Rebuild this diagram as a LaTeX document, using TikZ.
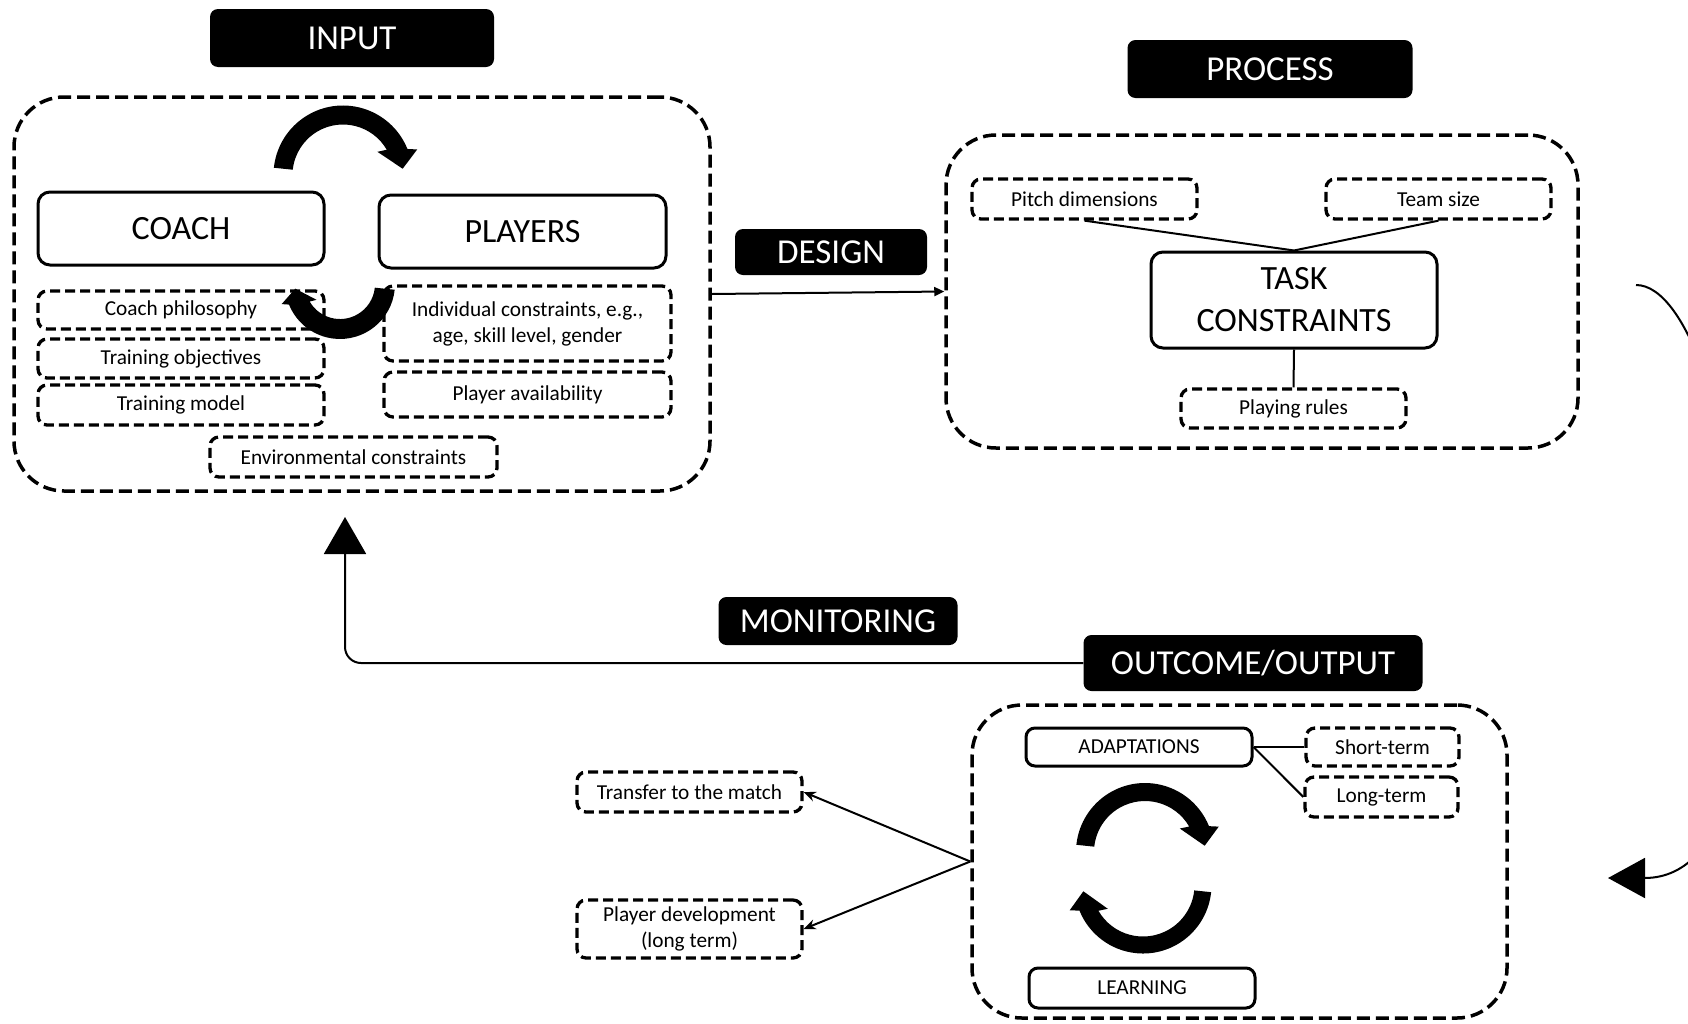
\documentclass[tikz,border=0pt]{standalone}
\usepackage{fontspec}
\setmainfont{Carlito}
\usetikzlibrary{arrows.meta}
\tikzset{
    tag/.style={fill=black,text=white,rounded corners=8pt,inner sep=0pt,font=\fontsize{35}{40}\selectfont},
    group/.style={draw,line width=3.5pt,dash pattern=on 13pt off 6pt,rounded corners=50pt},
    mainbox/.style={draw,line width=3pt,rounded corners=12pt,inner sep=0pt,align=center,font=\fontsize{34}{42}\selectfont},
    subbox/.style={draw,line width=3.3pt,dash pattern=on 10pt off 5pt,rounded corners=9pt,inner sep=0pt,align=center,font=\fontsize{21.3}{26}\selectfont},
    smallbox/.style={draw,line width=3pt,rounded corners=9pt,inner sep=0pt,font=\fontsize{21.3}{26}\selectfont},
    link/.style={line width=2pt},
    cyclearrow/.pic={
        \fill (-174:{60+#1}) arc[start angle=-174,end angle=-22,radius={60+#1}]
            -- (-19:{69+#1}) -- (-6:60) -- (-34:{51-#1}) -- (-30:{60-#1})
            arc[start angle=-30,end angle=-174,radius={60-#1}] -- cycle;
    }
}
\begin{document}
\begin{tikzpicture}[x=1pt,y=-1pt]
    \useasboundingbox (0,0) rectangle (1688,1023);
    % input
    \node[tag,minimum width=284pt,minimum height=58pt] (inlabel) at (352,38) {INPUT};
    \node[group,minimum width=696pt,minimum height=394pt] (inbox) at (362,294) {};
    \node[mainbox,minimum width=286pt,minimum height=73pt] (coach) at (181,228.5) {COACH};
    \node[mainbox,minimum width=287pt,minimum height=73pt] (players) at (522.5,231.5) {PLAYERS};
    \node[subbox,minimum width=286pt,minimum height=38pt] (philo) at (181,310) {Coach philosophy};
    \node[subbox,minimum width=286pt,minimum height=39pt] (objectives) at (181,358.5) {Training objectives};
    \node[subbox,minimum width=286pt,minimum height=40pt] (model) at (181,405) {Training model};
    \node[subbox,minimum width=287pt,minimum height=75pt] (indiv) at (527.5,323.5) {Individual constraints, e.g.,\\age, skill level, gender};
    \node[subbox,minimum width=287pt,minimum height=45pt] (avail) at (527.5,394.5) {Player availability};
    \node[subbox,minimum width=287pt,minimum height=40pt] (env) at (353.5,457) {Environmental constraints};
    \draw (343,175) pic {cyclearrow=9.5};
    \draw (340,284) pic[rotate=180,scale=0.75] {cyclearrow=13.3};
    % process
    \node[tag,minimum width=192pt,minimum height=46pt] (designlabel) at (831,252) {DESIGN};
    \node[tag,minimum width=285pt,minimum height=58pt] (proclabel) at (1270,69) {PROCESS};
    \node[group,minimum width=632pt,minimum height=313pt] (procbox) at (1262,291.5) {};
    \node[subbox,minimum width=225pt,minimum height=40pt] (pitch) at (1084.5,199) {Pitch dimensions};
    \node[subbox,minimum width=225pt,minimum height=40pt] (team) at (1438.5,199) {Team size};
    \node[mainbox,minimum width=286pt,minimum height=96pt] (task) at (1294,300) {TASK\\CONSTRAINTS};
    \node[subbox,minimum width=225pt,minimum height=39pt] (rules) at (1293.5,408.5) {Playing rules};
    \draw[link,-{Triangle[length=10pt,width=9pt]}] (inbox.east) -- (procbox.west);
    \draw[link] (pitch.south) -- (task.north);
    \draw[link] (team.south) -- (task.north);
    \draw[link] (task.south) -- (rules.north);
    % outcome
    \node[tag,minimum width=239pt,minimum height=48pt] (monlabel) at (838,621) {MONITORING};
    \node[tag,minimum width=339pt,minimum height=56pt] (outlabel) at (1253,663) {OUTCOME/OUTPUT};
    \node[group,minimum width=535pt,minimum height=313pt] (outbox) at (1239.5,861.5) {};
    \node[smallbox,minimum width=226pt,minimum height=38pt] (adapt) at (1139,747) {ADAPTATIONS};
    \node[subbox,minimum width=153pt,minimum height=38pt] (short) at (1382.5,747) {Short-term};
    \node[subbox,minimum width=153pt,minimum height=40pt] (long) at (1381.5,797) {Long-term};
    \node[smallbox,minimum width=226pt,minimum height=40pt] (learn) at (1142,988) {LEARNING};
    \node[subbox,minimum width=225pt,minimum height=40pt] (transfer) at (689.5,792) {Transfer to the match};
    \node[subbox,minimum width=225pt,minimum height=58pt] (dev) at (689.5,929) {Player development\\(long term)};
    \draw (1145,852) pic {cyclearrow=9};
    \draw (1143,885) pic[rotate=180] {cyclearrow=8.5};
    \draw[link] (adapt.east) -- (short.west);
    \draw[link] (adapt.east) -- (long.west);
    \draw[link,-{Stealth[length=12pt,width=10pt]}] (outbox.west) -- (transfer.east);
    \draw[link,-{Stealth[length=12pt,width=10pt]}] (outbox.west) -- (dev.east);
    % feedback
    \coordinate (montip) at (345,517);
    \draw[link,rounded corners=16pt,-{Triangle[length=37pt,width=42pt]}] (outlabel.west) -| (montip);
    \coordinate (loopstart) at (1636,285);
    \coordinate (loopend) at (1608,878);
    \begin{scope}
        \clip (0,0) rectangle (1688,1023);
        \draw[link,-{Triangle[length=37pt,width=40pt]}] (loopstart) .. controls (1740,285) and (1820,878) .. (loopend);
    \end{scope}
\end{tikzpicture}
\end{document}
